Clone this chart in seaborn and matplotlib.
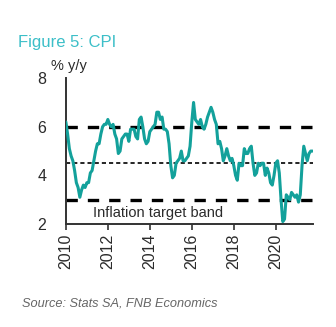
import numpy as np
import pandas as pd
import matplotlib
matplotlib.use("Agg")
import matplotlib.pyplot as plt
import seaborn as sns

# Monthly CPI, % y/y, Jan 2010 onwards
cpi_2010 = [6.2, 5.7, 5.1, 4.8, 4.6, 4.2, 3.7, 3.5, 3.1, 3.4, 3.6, 3.5]
cpi_2011 = [3.7, 3.7, 4.1, 4.2, 4.6, 5.0, 5.3, 5.3, 5.7, 6.0, 6.1, 6.1]
cpi_2012 = [6.3, 6.1, 6.0, 6.1, 5.7, 5.5, 4.9, 5.0, 5.5, 5.6, 5.7, 5.7]
cpi_2013 = [5.4, 5.9, 5.9, 5.9, 5.6, 5.5, 6.3, 6.4, 6.0, 5.5, 5.3, 5.4]
cpi_2014 = [5.8, 5.9, 6.0, 6.1, 6.6, 6.6, 6.3, 6.4, 5.9, 5.9, 5.8, 5.3]
cpi_2015 = [4.4, 3.9, 4.0, 4.5, 4.6, 4.7, 5.0, 4.6, 4.6, 4.7, 4.8, 5.2]
cpi_2016 = [6.2, 7.0, 6.3, 6.2, 6.1, 6.3, 6.0, 5.9, 6.1, 6.4, 6.6, 6.8]
cpi_2017 = [6.6, 6.3, 6.1, 5.3, 5.4, 5.1, 4.6, 4.8, 5.1, 4.8, 4.6, 4.7]
cpi_2018 = [4.4, 4.0, 3.8, 4.5, 4.4, 4.4, 5.1, 4.9, 4.9, 5.1, 5.2, 4.5]
cpi_2019 = [4.0, 4.1, 4.5, 4.4, 4.5, 4.5, 4.0, 4.3, 4.1, 3.7, 3.6, 4.0]
cpi_2020 = [4.5, 4.6, 4.1, 3.0, 2.1, 2.2, 3.2, 3.1, 3.0, 3.3, 3.2, 3.1]
cpi_2021 = [3.2, 2.9, 3.2, 4.4, 5.2, 4.9, 4.6, 4.9, 5.0, 5.0]

target_low = 3.0
target_mid = 4.5
target_high = 6.0
x_ticks = [2010, 2012, 2014, 2016, 2018, 2020]
y_ticks = [2, 4, 6, 8]

values = (cpi_2010 + cpi_2011 + cpi_2012 + cpi_2013 + cpi_2014 + cpi_2015 +
          cpi_2016 + cpi_2017 + cpi_2018 + cpi_2019 + cpi_2020 + cpi_2021)
years = 2010 + np.arange(len(values)) / 12.0
df = pd.DataFrame({"year": years, "cpi": values})

sns.set_style("white")
plt.rcParams['font.family'] = ['Liberation Sans', 'DejaVu Sans']

fig = plt.figure(figsize=(3.36, 3.27), dpi=100)
ax = fig.add_axes([0.196, 0.315, 0.736, 0.446])

text_col = "#2b2b2b"
ax.axhline(target_high, color="black", lw=2.4, dashes=(3.4, 3.0), zorder=1)
ax.axhline(target_low, color="black", lw=2.4, dashes=(3.4, 3.0), zorder=1)
ax.axhline(target_mid, color="black", lw=1.2, dashes=(2.5, 1.8), zorder=1)

sns.lineplot(data=df, x="year", y="cpi", ax=ax, color="#13a19b", lw=2.2, zorder=3)

ax.set_xlim(2010, 2021.78)
ax.set_ylim(2, 8)
ax.set_xticks(x_ticks)
ax.set_xticklabels([str(t) for t in x_ticks], rotation=90, fontsize=11.5, color=text_col)
ax.set_yticks(y_ticks)
ax.set_yticklabels([str(t) for t in y_ticks], fontsize=11.5, color=text_col)
ax.tick_params(axis="x", length=4, width=1.2, color="#333333", direction="out", pad=3, bottom=True)
ax.tick_params(axis="y", length=0, pad=14)
ax.set_xlabel("")
ax.set_ylabel("")
for s in ["top", "right"]:
    ax.spines[s].set_visible(False)
for s in ["left", "bottom"]:
    ax.spines[s].set_color("#333333")
    ax.spines[s].set_linewidth(1.4)

ax.text(2011.29, 2.45, "Inflation target band", fontsize=10.5, color=text_col,
        ha="left", va="center", zorder=4)

fig.text(18 / 336, 1 - 42 / 327, "Figure 5: CPI", fontsize=12, color="#3cbfc8",
         ha="left", va="center")
fig.text(51 / 336, 1 - 66 / 327, "% y/y", fontsize=10.5, color=text_col,
         ha="left", va="center")
fig.text(22 / 336, 1 - 303 / 327, "Source: Stats SA, FNB Economics", fontsize=9.2,
         color="#666666", style="italic", ha="left", va="center")

fig.savefig("out.png", dpi=100)
